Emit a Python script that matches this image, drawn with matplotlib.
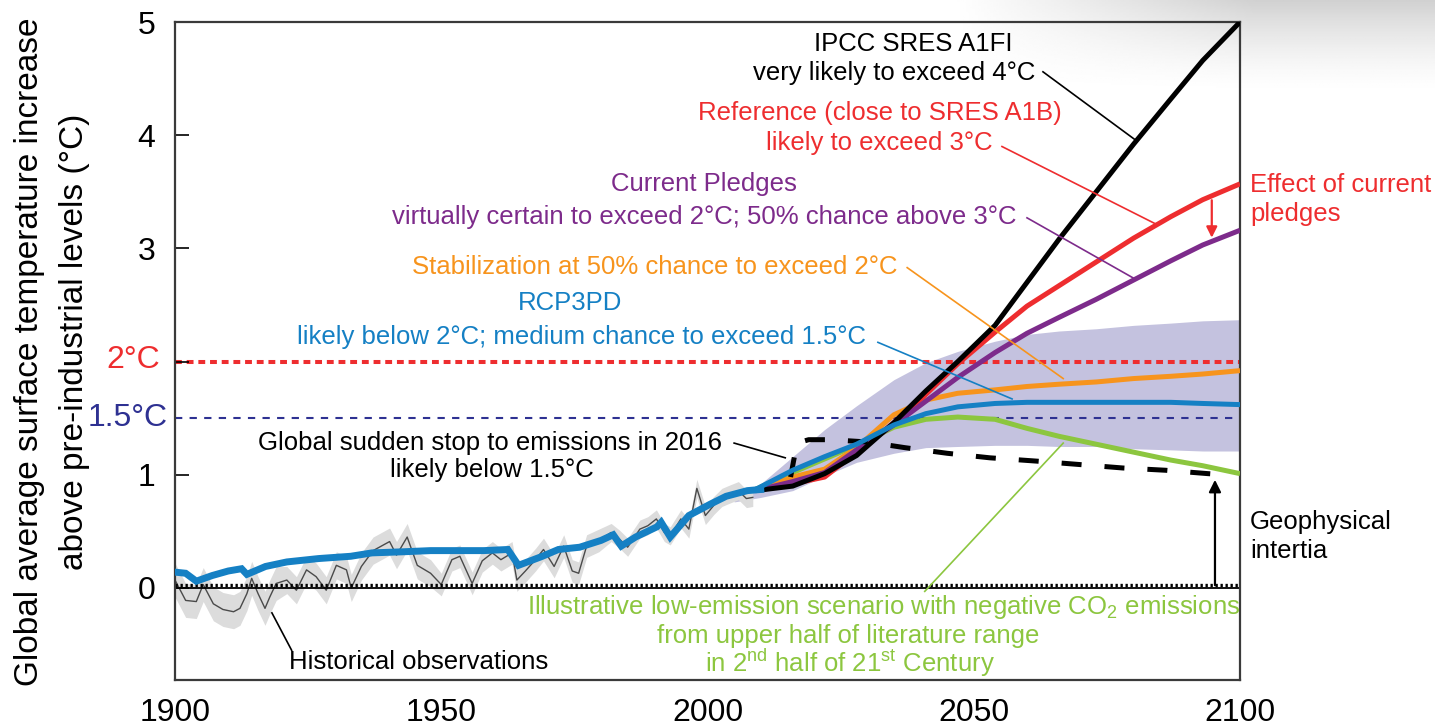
import numpy as np
import matplotlib
matplotlib.use("Agg")
import matplotlib.pyplot as plt

plt.rcParams["font.family"] = ["Liberation Sans", "DejaVu Sans"]
plt.rcParams["mathtext.fontset"] = "custom"
plt.rcParams["mathtext.rm"] = "Liberation Sans"
plt.rcParams["mathtext.it"] = "Liberation Sans:italic"

# --- modelled historical warming (shared by every scenario) ---
hist_years = [1900, 1902, 1904, 1907, 1910, 1912.5, 1913.5, 1917, 1921, 1927,
              1933, 1937, 1943, 1948, 1953, 1958, 1962.5, 1964.5, 1969, 1972,
              1976, 1980, 1982.3, 1983.8, 1986.5, 1990.5, 1991.3, 1993, 1996.5,
              2000.5, 2003.5, 2007.5, 2010]
hist_model = [0.14, 0.13, 0.06, 0.11, 0.15, 0.17, 0.12, 0.19, 0.23, 0.26,
              0.28, 0.31, 0.32, 0.33, 0.33, 0.33, 0.34, 0.20, 0.28, 0.34,
              0.36, 0.42, 0.47, 0.37, 0.45, 0.54, 0.58, 0.45, 0.64,
              0.74, 0.81, 0.86, 0.87]

# --- observed record ---
obs_years = [1900, 1902, 1904, 1905.3, 1907.2, 1909, 1911, 1912.2, 1913.5, 1914.4,
             1915.6, 1916.9, 1917.8, 1919, 1921, 1922.8, 1924.7, 1926.5, 1928.4, 1930.3,
             1932.2, 1933.1, 1935, 1937.2, 1940.3, 1941.6, 1943.6, 1945.5, 1948, 1950,
             1952, 1953.5, 1955.8, 1957.7, 1959.6, 1961.2, 1963.3, 1964.2, 1965.8, 1967.7,
             1969.2, 1971.2, 1973, 1974.6, 1975.8, 1977.3, 1979.6, 1981.9, 1983.5, 1985,
             1987.3, 1988.8, 1990.4, 1991.9, 1993, 1995, 1996.5, 1998, 1999.6, 2001.2,
             2002.7, 2004.2, 2005.8, 2007.3, 2008.5]
obs_vals = [0.07, -0.11, -0.12, 0.03, -0.14, -0.19, -0.21, -0.18, -0.05, 0.085,
            -0.05, -0.18, -0.08, 0.04, 0.07, -0.02, 0.16, 0.10, -0.02, 0.20,
            0.16, 0.0, 0.19, 0.33, 0.41, 0.29, 0.45, 0.20, 0.13, 0.03,
            0.25, 0.28, 0.04, 0.24, 0.31, 0.25, 0.31, 0.07, 0.15, 0.25,
            0.34, 0.19, 0.37, 0.15, 0.13, 0.37, 0.42, 0.49, 0.43, 0.36,
            0.52, 0.55, 0.61, 0.49, 0.46, 0.61, 0.52, 0.88, 0.64, 0.73,
            0.80, 0.83, 0.86, 0.79, 0.80]
# observational uncertainty (half-width) by era start year
obs_unc_start = [1900, 1920, 1950, 1980]
obs_unc_width = [0.15, 0.12, 0.10, 0.08]

# --- 21st century projections ---
fut_years = [2009, 2016, 2022, 2028, 2035, 2041, 2047, 2054, 2060, 2066, 2073, 2080, 2087, 2093, 2100]
a1fi      = [0.86, 0.90, 1.01, 1.17, 1.46, 1.74, 2.00, 2.32, 2.70, 3.08, 3.50, 3.92, 4.32, 4.66, 5.00]
reference = [0.86, 0.92, 0.98, 1.20, 1.46, 1.71, 1.98, 2.26, 2.49, 2.67, 2.88, 3.09, 3.28, 3.43, 3.57]
pledges   = [0.86, 0.94, 1.02, 1.22, 1.44, 1.65, 1.86, 2.08, 2.25, 2.39, 2.55, 2.72, 2.89, 3.03, 3.16]
stabil    = [0.86, 0.98, 1.05, 1.24, 1.53, 1.66, 1.72, 1.75, 1.78, 1.80, 1.82, 1.85, 1.87, 1.89, 1.92]
rcp3pd    = [0.87, 1.04, 1.16, 1.27, 1.44, 1.54, 1.60, 1.63, 1.64, 1.64, 1.64, 1.64, 1.64, 1.63, 1.62]
low_emis  = [0.87, 1.02, 1.14, 1.26, 1.42, 1.49, 1.51, 1.49, 1.41, 1.34, 1.27, 1.20, 1.13, 1.08, 1.01]

band_years = [2005, 2010, 2016, 2022, 2028, 2035, 2041, 2047, 2054, 2060, 2066, 2073, 2080, 2087, 2093, 2100]
band_hi    = [0.80, 0.92, 1.16, 1.40, 1.61, 1.84, 1.99, 2.09, 2.18, 2.24, 2.27, 2.29, 2.32, 2.34, 2.36, 2.37]
band_lo    = [0.76, 0.80, 0.86, 0.99, 1.11, 1.19, 1.24, 1.25, 1.26, 1.26, 1.25, 1.25, 1.23, 1.22, 1.21, 1.21]

stop_years = [2015.6, 2016.8, 2019, 2023, 2030, 2037, 2045, 2053, 2062, 2070, 2078, 2086, 2094, 2097]
stop_vals  = [0.98, 1.28, 1.31, 1.31, 1.29, 1.24, 1.19, 1.15, 1.12, 1.09, 1.06, 1.04, 1.01, 1.00]

BLACK = "#000000"
RED = "#ee2d2f"
PURPLE = "#7d2b8b"
ORANGE = "#f7941d"
BLUE = "#1580c4"
GREEN = "#8cc63f"
NAVY = "#2e3192"

fig = plt.figure(figsize=(14.35, 7.28), dpi=100)

# soft grey wash in the upper right corner, fading down and to the left
bg = fig.add_axes([0.58, 0.87, 0.42, 0.13], zorder=-5)
gy, gx = np.mgrid[0:1:60j, 0:1:200j]
shade = 1 - 0.18 * (1 - gy) ** 1.5 * np.clip(gx * 2.0 - 0.4, 0, 1)
bg.imshow(shade, cmap="gray", vmin=0, vmax=1, aspect="auto", extent=[0, 1, 0, 1],
          interpolation="bilinear")
bg.axis("off")

ax = fig.add_axes([175 / 1435, 48 / 728, 1065 / 1435, 658 / 728])
ax.patch.set_alpha(0)
ax.set_xlim(1900, 2100)
ax.set_ylim(-0.813, 5.0)

# uncertainty bands
ax.fill_between(band_years, band_lo, band_hi, color="#c4c2df", lw=0, zorder=1)
ov = np.array(obs_vals)
unc = np.array(obs_unc_width)[np.searchsorted(obs_unc_start, obs_years, side="right") - 1]
ax.fill_between(obs_years, ov - unc, ov + unc, color="#dcdcdc", lw=0, zorder=1)
ax.plot(obs_years, obs_vals, color="#4a4a4a", lw=1.0, zorder=2)

# reference levels
ax.axhline(2.0, color=RED, lw=2.9, dashes=(1.7, 1.2), zorder=1.5)
ax.axhline(1.5, color=NAVY, lw=1.5, dashes=(3.5, 3.5), zorder=1.5)
ax.axhline(0, color=BLACK, lw=1.3, zorder=2.5)
ax.plot([1900, 2100], [0.022, 0.022], color=BLACK, lw=2.4, dashes=(0.7, 0.8),
        dash_capstyle="butt", zorder=2.5)

# scenarios
ax.plot(fut_years, low_emis, color=GREEN, lw=3.6, zorder=3, solid_capstyle="butt")
ax.plot(fut_years, stabil, color=ORANGE, lw=3.6, zorder=4, solid_capstyle="butt")
ax.plot(fut_years, reference, color=RED, lw=3.6, zorder=5, solid_capstyle="butt")
ax.plot(fut_years, pledges, color=PURPLE, lw=3.6, zorder=6, solid_capstyle="butt")
ax.plot(stop_years, stop_vals, color=BLACK, lw=3.6, dashes=(4, 4.6),
        dash_capstyle="butt", zorder=6.5)
ax.plot(fut_years, a1fi, color=BLACK, lw=3.6, zorder=7, solid_capstyle="butt")
ax.plot(fut_years, rcp3pd, color=BLUE, lw=3.6, zorder=8)
ax.plot(hist_years, hist_model, color=BLUE, lw=5, zorder=8, solid_joinstyle="miter")

# leader lines from labels to curves
leaders = [
    ((2063.0, 4.56), (2080.3, 3.96), BLACK),
    ((2055.3, 3.90), (2084.0, 3.22), RED),
    ((2060.0, 3.27), (2079.9, 2.74), PURPLE),
    ((2037.5, 2.83), (2066.8, 1.85), ORANGE),
    ((2032.0, 2.17), (2057.2, 1.67), BLUE),
    ((2005.0, 1.28), (2014.6, 1.15), BLACK),
    ((2066.8, 1.28), (2040.8, -0.03), GREEN),
    ((1918.2, -0.22), (1921.9, -0.55), BLACK),
]
for (x0, y0), (x1, y1), c in leaders:
    ax.plot([x0, x1], [y0, y1], color=c, lw=1.2, zorder=9)

# arrows
ax.annotate("", xy=(2094.7, 3.07), xytext=(2094.7, 3.45),
            arrowprops=dict(arrowstyle="-|>", color=RED, lw=1.6, mutation_scale=16), zorder=9)
ax.annotate("", xy=(2095.3, 0.98), xytext=(2095.3, 0.0),
            arrowprops=dict(arrowstyle="-|>", color=BLACK, lw=1.6, mutation_scale=18), zorder=9)

fs = 18.5
labels = [
    ("IPCC SRES A1FI", 2038.6, 4.81, BLACK),
    ("very likely to exceed 4°C", 2035.0, 4.55, BLACK),
    ("Reference (close to SRES A1B)", 2032.4, 4.20, RED),
    ("likely to exceed 3°C", 2032.2, 3.93, RED),
    ("Current Pledges", 1999.3, 3.57, PURPLE),
    ("virtually certain to exceed 2°C; 50% chance above 3°C", 1999.3, 3.28, PURPLE),
    ("Stabilization at 50% chance to exceed 2°C", 1990.0, 2.84, ORANGE),
    ("RCP3PD", 1974.2, 2.52, BLUE),
    ("likely below 2°C; medium chance to exceed 1.5°C", 1976.4, 2.22, BLUE),
    ("Global sudden stop to emissions in 2016", 1959.2, 1.28, BLACK),
    ("likely below 1.5°C", 1959.5, 1.04, BLACK),
    ("Historical observations", 1945.8, -0.65, BLACK),
    ("Illustrative low-emission scenario with negative CO$_2$ emissions", 2033.0, -0.17, GREEN),
    ("from upper half of literature range", 2026.4, -0.42, GREEN),
    ("in 2$^{\\rm nd}$ half of 21$^{\\rm st}$ Century", 2026.8, -0.66, GREEN),
]
for s, x, y, c in labels:
    ax.text(x, y, s, color=c, fontsize=fs, ha="center", va="center", zorder=10)

ax.text(2101.9, 3.56, "Effect of current", color=RED, fontsize=fs, ha="left", va="center", clip_on=False)
ax.text(2101.9, 3.30, "pledges", color=RED, fontsize=fs, ha="left", va="center", clip_on=False)
ax.text(2101.9, 0.58, "Geophysical", color=BLACK, fontsize=fs, ha="left", va="center", clip_on=False)
ax.text(2101.9, 0.33, "intertia", color=BLACK, fontsize=fs, ha="left", va="center", clip_on=False)
ax.text(1897.2, 2.01, "2°C", color=RED, fontsize=23, ha="right", va="center", clip_on=False)
ax.text(1898.7, 1.50, "1.5°C", color=NAVY, fontsize=23, ha="right", va="center", clip_on=False)

# axes styling
ax.set_xticks([1900, 1950, 2000, 2050, 2100])
ax.set_yticks([0, 1, 2, 3, 4, 5])
ax.set_yticklabels(["0", "1", "", "3", "4", "5"])
ax.tick_params(axis="x", length=0, pad=13, labelsize=23)
ax.tick_params(axis="y", direction="in", length=10, width=1.2, pad=14, labelsize=23)
for sp in ax.spines.values():
    sp.set_color("#3a3a3a")
    sp.set_linewidth(1.6)

fig.text(30 / 1435, 1 - 352 / 728, "Global average surface temperature increase",
         rotation=90, ha="center", va="center", fontsize=24)
fig.text(75 / 1435, 1 - 342 / 728, "above pre-industrial levels (°C)",
         rotation=90, ha="center", va="center", fontsize=24)

fig.savefig("out.png", dpi=100)
